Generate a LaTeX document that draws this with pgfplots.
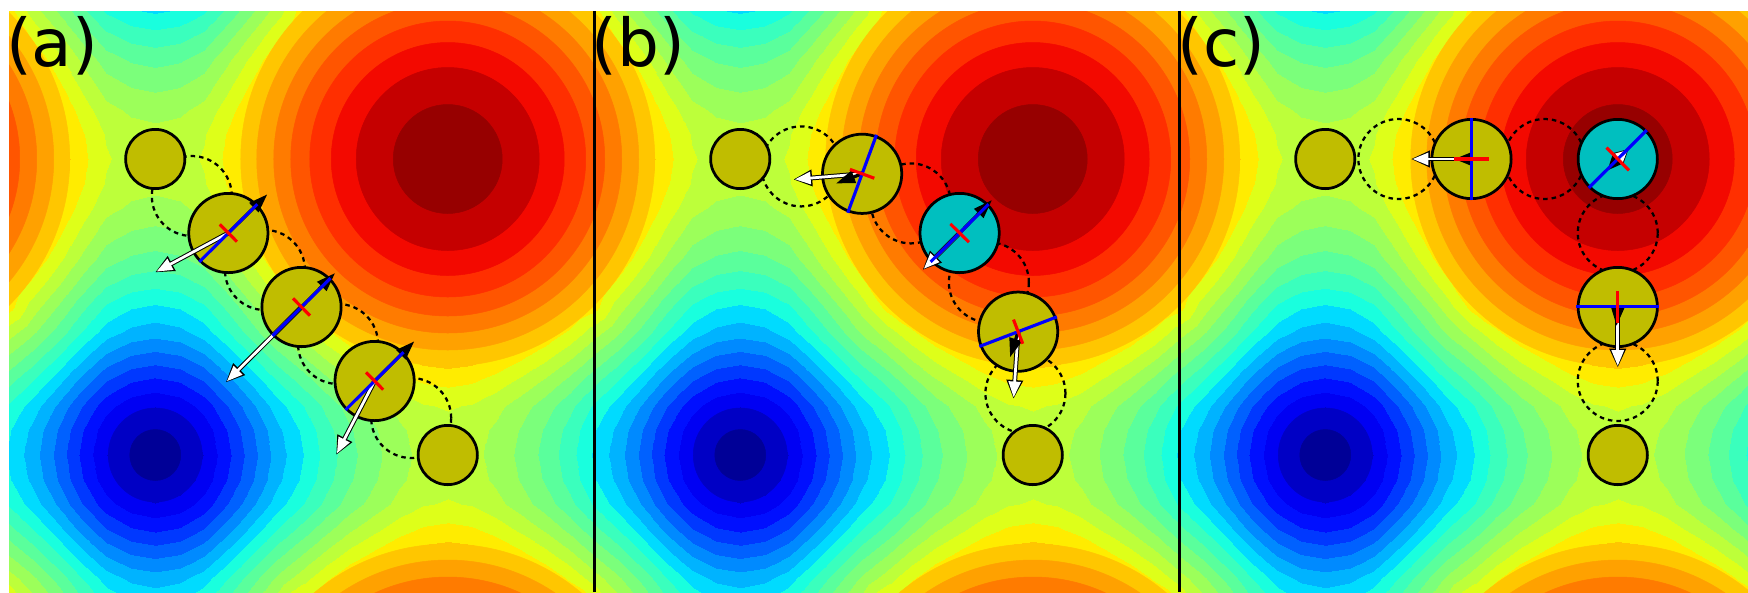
\documentclass[border=0pt]{standalone}
\usepackage{fontspec}
\usepackage{pgfplots}
\usepackage{pgfplotstable}
\pgfplotsset{compat=1.18}
\usetikzlibrary{arrows.meta}
\newfontfamily\lblfont{DejaVu Sans}

\definecolor{partolive}{RGB}{192,189,0}
\definecolor{partcyan}{RGB}{0,191,191}
\definecolor{band0}{RGB}{0,0,151}
\definecolor{band1}{RGB}{0,0,197}
\definecolor{band17}{RGB}{255,198,0}
\definecolor{band18}{RGB}{255,161,0}
\definecolor{band19}{RGB}{255,123,0}
\definecolor{band20}{RGB}{255,85,0}
\definecolor{band21}{RGB}{255,47,0}
\definecolor{band22}{RGB}{243,9,0}
\definecolor{band23}{RGB}{197,0,0}
\definecolor{band24}{RGB}{151,0,0}

% potential on a 25x25 grid over one period (grid units: 24 = one period)
\pgfplotstableread[row sep=\\]{
x y v\\
0 0 16.40\\ 1 0 14.49\\ 2 0 12.91\\ 3 0 11.29\\ 4 0 9.85\\ 5 0 9.11\\ 6 0 8.85\\ 7 0 9.11\\ 8 0 9.85\\ 9 0 11.29\\ 10 0 12.91\\ 11 0 14.49\\ 12 0 16.40\\ 13 0 17.19\\ 14 0 18.31\\ 15 0 19.18\\ 16 0 19.90\\ 17 0 20.39\\ 18 0 20.55\\ 19 0 20.39\\ 20 0 19.90\\ 21 0 19.18\\ 22 0 18.31\\ 23 0 17.19\\ 24 0 16.40\\
0 1 14.49\\ 1 1 13.19\\ 2 1 11.62\\ 3 1 9.99\\ 4 1 8.53\\ 5 1 7.73\\ 6 1 7.45\\ 7 1 7.73\\ 8 1 8.53\\ 9 1 9.99\\ 10 1 11.62\\ 11 1 13.19\\ 12 1 14.49\\ 13 1 15.80\\ 14 1 16.90\\ 15 1 17.76\\ 16 1 18.49\\ 17 1 18.98\\ 18 1 19.15\\ 19 1 18.98\\ 20 1 18.49\\ 21 1 17.76\\ 22 1 16.90\\ 23 1 15.80\\ 24 1 14.49\\
0 2 12.91\\ 1 2 11.62\\ 2 2 10.03\\ 3 2 8.35\\ 4 2 6.83\\ 5 2 5.96\\ 6 2 5.66\\ 7 2 5.96\\ 8 2 6.83\\ 9 2 8.35\\ 10 2 10.03\\ 11 2 11.62\\ 12 2 12.91\\ 13 2 14.24\\ 14 2 15.36\\ 15 2 16.24\\ 16 2 17.01\\ 17 2 17.53\\ 18 2 17.70\\ 19 2 17.53\\ 20 2 17.01\\ 21 2 16.24\\ 22 2 15.36\\ 23 2 14.24\\ 24 2 12.91\\
0 3 11.29\\ 1 3 9.99\\ 2 3 8.35\\ 3 3 6.60\\ 4 3 5.02\\ 5 3 4.09\\ 6 3 3.76\\ 7 3 4.09\\ 8 3 5.02\\ 9 3 6.60\\ 10 3 8.35\\ 11 3 9.99\\ 12 3 11.29\\ 13 3 12.67\\ 14 3 13.83\\ 15 3 14.75\\ 16 3 15.56\\ 17 3 16.12\\ 18 3 16.30\\ 19 3 16.12\\ 20 3 15.56\\ 21 3 14.75\\ 22 3 13.83\\ 23 3 12.67\\ 24 3 11.29\\
0 4 9.85\\ 1 4 8.53\\ 2 4 6.83\\ 3 4 5.02\\ 4 4 3.39\\ 5 4 2.39\\ 6 4 2.04\\ 7 4 2.39\\ 8 4 3.39\\ 9 4 5.02\\ 10 4 6.83\\ 11 4 8.53\\ 12 4 9.85\\ 13 4 11.28\\ 14 4 12.50\\ 15 4 13.46\\ 16 4 14.32\\ 17 4 14.91\\ 18 4 15.10\\ 19 4 14.91\\ 20 4 14.32\\ 21 4 13.46\\ 22 4 12.50\\ 23 4 11.28\\ 24 4 9.85\\
0 5 9.11\\ 1 5 7.73\\ 2 5 5.96\\ 3 5 4.09\\ 4 5 2.39\\ 5 5 1.35\\ 6 5 0.98\\ 7 5 1.35\\ 8 5 2.39\\ 9 5 4.09\\ 10 5 5.96\\ 11 5 7.73\\ 12 5 9.11\\ 13 5 10.61\\ 14 5 11.89\\ 15 5 12.91\\ 16 5 13.82\\ 17 5 14.43\\ 18 5 14.64\\ 19 5 14.43\\ 20 5 13.82\\ 21 5 12.91\\ 22 5 11.89\\ 23 5 10.61\\ 24 5 9.11\\
0 6 8.85\\ 1 6 7.45\\ 2 6 5.66\\ 3 6 3.76\\ 4 6 2.04\\ 5 6 0.98\\ 6 6 0.60\\ 7 6 0.98\\ 8 6 2.04\\ 9 6 3.76\\ 10 6 5.66\\ 11 6 7.45\\ 12 6 8.85\\ 13 6 10.38\\ 14 6 11.69\\ 15 6 12.73\\ 16 6 13.66\\ 17 6 14.29\\ 18 6 14.50\\ 19 6 14.29\\ 20 6 13.66\\ 21 6 12.73\\ 22 6 11.69\\ 23 6 10.38\\ 24 6 8.85\\
0 7 9.11\\ 1 7 7.73\\ 2 7 5.96\\ 3 7 4.09\\ 4 7 2.39\\ 5 7 1.35\\ 6 7 0.98\\ 7 7 1.35\\ 8 7 2.39\\ 9 7 4.09\\ 10 7 5.96\\ 11 7 7.73\\ 12 7 9.11\\ 13 7 10.61\\ 14 7 11.89\\ 15 7 12.91\\ 16 7 13.82\\ 17 7 14.43\\ 18 7 14.64\\ 19 7 14.43\\ 20 7 13.82\\ 21 7 12.91\\ 22 7 11.89\\ 23 7 10.61\\ 24 7 9.11\\
0 8 9.85\\ 1 8 8.53\\ 2 8 6.83\\ 3 8 5.02\\ 4 8 3.39\\ 5 8 2.39\\ 6 8 2.04\\ 7 8 2.39\\ 8 8 3.39\\ 9 8 5.02\\ 10 8 6.83\\ 11 8 8.53\\ 12 8 9.85\\ 13 8 11.28\\ 14 8 12.50\\ 15 8 13.46\\ 16 8 14.32\\ 17 8 14.91\\ 18 8 15.10\\ 19 8 14.91\\ 20 8 14.32\\ 21 8 13.46\\ 22 8 12.50\\ 23 8 11.28\\ 24 8 9.85\\
0 9 11.29\\ 1 9 9.99\\ 2 9 8.35\\ 3 9 6.60\\ 4 9 5.02\\ 5 9 4.09\\ 6 9 3.76\\ 7 9 4.09\\ 8 9 5.02\\ 9 9 6.60\\ 10 9 8.35\\ 11 9 9.99\\ 12 9 11.29\\ 13 9 12.67\\ 14 9 13.83\\ 15 9 14.75\\ 16 9 15.56\\ 17 9 16.12\\ 18 9 16.30\\ 19 9 16.12\\ 20 9 15.56\\ 21 9 14.75\\ 22 9 13.83\\ 23 9 12.67\\ 24 9 11.29\\
0 10 12.91\\ 1 10 11.62\\ 2 10 10.03\\ 3 10 8.35\\ 4 10 6.83\\ 5 10 5.96\\ 6 10 5.66\\ 7 10 5.96\\ 8 10 6.83\\ 9 10 8.35\\ 10 10 10.03\\ 11 10 11.62\\ 12 10 12.91\\ 13 10 14.24\\ 14 10 15.36\\ 15 10 16.24\\ 16 10 17.01\\ 17 10 17.53\\ 18 10 17.70\\ 19 10 17.53\\ 20 10 17.01\\ 21 10 16.24\\ 22 10 15.36\\ 23 10 14.24\\ 24 10 12.91\\
0 11 14.49\\ 1 11 13.19\\ 2 11 11.62\\ 3 11 9.99\\ 4 11 8.53\\ 5 11 7.73\\ 6 11 7.45\\ 7 11 7.73\\ 8 11 8.53\\ 9 11 9.99\\ 10 11 11.62\\ 11 11 13.19\\ 12 11 14.49\\ 13 11 15.80\\ 14 11 16.90\\ 15 11 17.76\\ 16 11 18.49\\ 17 11 18.98\\ 18 11 19.15\\ 19 11 18.98\\ 20 11 18.49\\ 21 11 17.76\\ 22 11 16.90\\ 23 11 15.80\\ 24 11 14.49\\
0 12 16.40\\ 1 12 14.49\\ 2 12 12.91\\ 3 12 11.29\\ 4 12 9.85\\ 5 12 9.11\\ 6 12 8.85\\ 7 12 9.11\\ 8 12 9.85\\ 9 12 11.29\\ 10 12 12.91\\ 11 12 14.49\\ 12 12 16.40\\ 13 12 17.19\\ 14 12 18.31\\ 15 12 19.18\\ 16 12 19.90\\ 17 12 20.39\\ 18 12 20.55\\ 19 12 20.39\\ 20 12 19.90\\ 21 12 19.18\\ 22 12 18.31\\ 23 12 17.19\\ 24 12 16.40\\
0 13 17.19\\ 1 13 15.80\\ 2 13 14.24\\ 3 13 12.67\\ 4 13 11.28\\ 5 13 10.61\\ 6 13 10.38\\ 7 13 10.61\\ 8 13 11.28\\ 9 13 12.67\\ 10 13 14.24\\ 11 13 15.80\\ 12 13 17.19\\ 13 13 18.51\\ 14 13 19.61\\ 15 13 20.46\\ 16 13 21.15\\ 17 13 21.61\\ 18 13 21.77\\ 19 13 21.61\\ 20 13 21.15\\ 21 13 20.46\\ 22 13 19.61\\ 23 13 18.51\\ 24 13 17.19\\
0 14 18.31\\ 1 14 16.90\\ 2 14 15.36\\ 3 14 13.83\\ 4 14 12.50\\ 5 14 11.89\\ 6 14 11.69\\ 7 14 11.89\\ 8 14 12.50\\ 9 14 13.83\\ 10 14 15.36\\ 11 14 16.90\\ 12 14 18.31\\ 13 14 19.61\\ 14 14 20.69\\ 15 14 21.53\\ 16 14 22.18\\ 17 14 22.62\\ 18 14 22.77\\ 19 14 22.62\\ 20 14 22.18\\ 21 14 21.53\\ 22 14 20.69\\ 23 14 19.61\\ 24 14 18.31\\
0 15 19.18\\ 1 15 17.76\\ 2 15 16.24\\ 3 15 14.75\\ 4 15 13.46\\ 5 15 12.91\\ 6 15 12.73\\ 7 15 12.91\\ 8 15 13.46\\ 9 15 14.75\\ 10 15 16.24\\ 11 15 17.76\\ 12 15 19.18\\ 13 15 20.46\\ 14 15 21.53\\ 15 15 22.35\\ 16 15 22.98\\ 17 15 23.40\\ 18 15 23.54\\ 19 15 23.40\\ 20 15 22.98\\ 21 15 22.35\\ 22 15 21.53\\ 23 15 20.46\\ 24 15 19.18\\
0 16 19.90\\ 1 16 18.49\\ 2 16 17.01\\ 3 16 15.56\\ 4 16 14.32\\ 5 16 13.82\\ 6 16 13.66\\ 7 16 13.82\\ 8 16 14.32\\ 9 16 15.56\\ 10 16 17.01\\ 11 16 18.49\\ 12 16 19.90\\ 13 16 21.15\\ 14 16 22.18\\ 15 16 22.98\\ 16 16 23.57\\ 17 16 23.96\\ 18 16 24.10\\ 19 16 23.96\\ 20 16 23.57\\ 21 16 22.98\\ 22 16 22.18\\ 23 16 21.15\\ 24 16 19.90\\
0 17 20.39\\ 1 17 18.98\\ 2 17 17.53\\ 3 17 16.12\\ 4 17 14.91\\ 5 17 14.43\\ 6 17 14.29\\ 7 17 14.43\\ 8 17 14.91\\ 9 17 16.12\\ 10 17 17.53\\ 11 17 18.98\\ 12 17 20.39\\ 13 17 21.61\\ 14 17 22.62\\ 15 17 23.40\\ 16 17 23.96\\ 17 17 24.34\\ 18 17 24.47\\ 19 17 24.34\\ 20 17 23.96\\ 21 17 23.40\\ 22 17 22.62\\ 23 17 21.61\\ 24 17 20.39\\
0 18 20.55\\ 1 18 19.15\\ 2 18 17.70\\ 3 18 16.30\\ 4 18 15.10\\ 5 18 14.64\\ 6 18 14.50\\ 7 18 14.64\\ 8 18 15.10\\ 9 18 16.30\\ 10 18 17.70\\ 11 18 19.15\\ 12 18 20.55\\ 13 18 21.77\\ 14 18 22.77\\ 15 18 23.54\\ 16 18 24.10\\ 17 18 24.47\\ 18 18 24.60\\ 19 18 24.47\\ 20 18 24.10\\ 21 18 23.54\\ 22 18 22.77\\ 23 18 21.77\\ 24 18 20.55\\
0 19 20.39\\ 1 19 18.98\\ 2 19 17.53\\ 3 19 16.12\\ 4 19 14.91\\ 5 19 14.43\\ 6 19 14.29\\ 7 19 14.43\\ 8 19 14.91\\ 9 19 16.12\\ 10 19 17.53\\ 11 19 18.98\\ 12 19 20.39\\ 13 19 21.61\\ 14 19 22.62\\ 15 19 23.40\\ 16 19 23.96\\ 17 19 24.34\\ 18 19 24.47\\ 19 19 24.34\\ 20 19 23.96\\ 21 19 23.40\\ 22 19 22.62\\ 23 19 21.61\\ 24 19 20.39\\
0 20 19.90\\ 1 20 18.49\\ 2 20 17.01\\ 3 20 15.56\\ 4 20 14.32\\ 5 20 13.82\\ 6 20 13.66\\ 7 20 13.82\\ 8 20 14.32\\ 9 20 15.56\\ 10 20 17.01\\ 11 20 18.49\\ 12 20 19.90\\ 13 20 21.15\\ 14 20 22.18\\ 15 20 22.98\\ 16 20 23.57\\ 17 20 23.96\\ 18 20 24.10\\ 19 20 23.96\\ 20 20 23.57\\ 21 20 22.98\\ 22 20 22.18\\ 23 20 21.15\\ 24 20 19.90\\
0 21 19.18\\ 1 21 17.76\\ 2 21 16.24\\ 3 21 14.75\\ 4 21 13.46\\ 5 21 12.91\\ 6 21 12.73\\ 7 21 12.91\\ 8 21 13.46\\ 9 21 14.75\\ 10 21 16.24\\ 11 21 17.76\\ 12 21 19.18\\ 13 21 20.46\\ 14 21 21.53\\ 15 21 22.35\\ 16 21 22.98\\ 17 21 23.40\\ 18 21 23.54\\ 19 21 23.40\\ 20 21 22.98\\ 21 21 22.35\\ 22 21 21.53\\ 23 21 20.46\\ 24 21 19.18\\
0 22 18.31\\ 1 22 16.90\\ 2 22 15.36\\ 3 22 13.83\\ 4 22 12.50\\ 5 22 11.89\\ 6 22 11.69\\ 7 22 11.89\\ 8 22 12.50\\ 9 22 13.83\\ 10 22 15.36\\ 11 22 16.90\\ 12 22 18.31\\ 13 22 19.61\\ 14 22 20.69\\ 15 22 21.53\\ 16 22 22.18\\ 17 22 22.62\\ 18 22 22.77\\ 19 22 22.62\\ 20 22 22.18\\ 21 22 21.53\\ 22 22 20.69\\ 23 22 19.61\\ 24 22 18.31\\
0 23 17.19\\ 1 23 15.80\\ 2 23 14.24\\ 3 23 12.67\\ 4 23 11.28\\ 5 23 10.61\\ 6 23 10.38\\ 7 23 10.61\\ 8 23 11.28\\ 9 23 12.67\\ 10 23 14.24\\ 11 23 15.80\\ 12 23 17.19\\ 13 23 18.51\\ 14 23 19.61\\ 15 23 20.46\\ 16 23 21.15\\ 17 23 21.61\\ 18 23 21.77\\ 19 23 21.61\\ 20 23 21.15\\ 21 23 20.46\\ 22 23 19.61\\ 23 23 18.51\\ 24 23 17.19\\
0 24 16.40\\ 1 24 14.49\\ 2 24 12.91\\ 3 24 11.29\\ 4 24 9.85\\ 5 24 9.11\\ 6 24 8.85\\ 7 24 9.11\\ 8 24 9.85\\ 9 24 11.29\\ 10 24 12.91\\ 11 24 14.49\\ 12 24 16.40\\ 13 24 17.19\\ 14 24 18.31\\ 15 24 19.18\\ 16 24 19.90\\ 17 24 20.39\\ 18 24 20.55\\ 19 24 20.39\\ 20 24 19.90\\ 21 24 19.18\\ 22 24 18.31\\ 23 24 17.19\\ 24 24 16.40\\
}\fieldtab

% the maximum at (18,18) and its periodic images that reach into a panel
\pgfplotstableread[row sep=\\]{
x y\\
18 18\\ -6 18\\ 18 -6\\
}\peaktab

\pgfplotsset{
  colormap={mpljet}{
    rgb255=(0,0,151) rgb255=(0,0,197) rgb255=(0,0,243) rgb255=(0,15,255)
    rgb255=(0,56,255) rgb255=(0,97,255) rgb255=(0,138,255) rgb255=(0,179,255)
    rgb255=(0,219,255) rgb255=(25,255,222) rgb255=(58,255,189) rgb255=(90,255,156)
    rgb255=(123,255,123) rgb255=(156,255,90) rgb255=(189,255,58) rgb255=(222,255,25)
    rgb255=(255,236,0) rgb255=(255,198,0) rgb255=(255,161,0) rgb255=(255,123,0)
    rgb255=(255,85,0) rgb255=(255,47,0) rgb255=(243,9,0) rgb255=(197,0,0)
    rgb255=(151,0,0)},
  fieldpanel/.style={scale only axis, width=234pt, height=232.4pt,
    xmin=0, xmax=24, ymin=0.446, ymax=24, hide axis, anchor=south west,
    view={0}{90}, colormap name=mpljet, point meta min=0, point meta max=25},
  % overlay axis: 8 grid units wider to the left and below, same scale;
  % the panel rectangle is clipped by the surrounding scope
  overlaypanel/.style={scale only axis, width=312pt, height=315.734pt,
    xmin=-8, xmax=24, ymin=-8, ymax=24, hide axis, anchor=south west,
    clip marker paths=true},
  ring/.style 2 args={only marks, mark=*, mark size=#1, color=#2,
    mark options={draw=#2, fill=#2, line width=0.2pt}},
  dashedring/.style={only marks, mark=o, mark size=16pt,
    mark options={draw=black, line width=0.9pt, dash pattern=on 1.8pt off 1.6pt}},
  smallpart/.style={only marks, mark=*, mark size=11.85pt,
    mark options={draw=black, fill=partolive, line width=1.1pt}},
  bigpart/.style={only marks, mark=*, mark size=15.85pt,
    mark options={draw=black, fill=#1, line width=1.1pt}},
  forceA/.style={draw=black, line width=1.9pt, -{Triangle[length=7.6pt,width=6.2pt]}},
  forceB/.style={draw=white, line width=1.1pt, shorten >=0.7pt, -{Triangle[length=6.3pt,width=4.8pt]}},
  dirarrow/.style={draw=black, line width=1.3pt, -{Triangle[length=7.6pt,width=5pt]}},
  orientline/.style={draw=blue, line width=1.25pt},
  crossmark/.style={draw=red, line width=1.25pt},
}

\newcommand{\fieldplot}{%
  \addplot3[surf, shader=interp, colormap access=piecewise constant,
    mesh/rows=25, point meta=\thisrow{v}] table[x=x, y=y, z=v] {\fieldtab};}
% round bands of the maxima (outermost first) and the core of the minimum
\newcommand{\extremabands}{%
  \addplot[ring={82.8pt}{band17}] table[x=x,y=y] {\peaktab};
  \addplot[ring={76.4pt}{band18}] table[x=x,y=y] {\peaktab};
  \addplot[ring={69.6pt}{band19}] table[x=x,y=y] {\peaktab};
  \addplot[ring={62.8pt}{band20}] table[x=x,y=y] {\peaktab};
  \addplot[ring={55.2pt}{band21}] table[x=x,y=y] {\peaktab};
  \addplot[ring={46.6pt}{band22}] table[x=x,y=y] {\peaktab};
  \addplot[ring={36.6pt}{band23}] table[x=x,y=y] {\peaktab};
  \addplot[ring={21.8pt}{band24}] table[x=x,y=y] {\peaktab};
  \addplot[ring={18.8pt}{band1}] coordinates {(6,6)};
  \addplot[ring={10.2pt}{band0}] coordinates {(6,6)};}

\begin{document}
\begin{tikzpicture}
\useasboundingbox (0pt,0pt) rectangle (699.2pt,236.8pt);

% ---------------- panel (a) ----------------
\begin{axis}[fieldpanel, at={(3.6pt,0pt)}]
  \fieldplot
\end{axis}
\begin{scope}
\clip (3.6pt,0pt) rectangle (237.6pt,232.4pt);
\begin{axis}[overlaypanel, at={(-74.4pt,-83.334pt)}]
  \extremabands
  \addplot[dashedring] coordinates {(7.5,16.5) (10.5,13.5) (13.5,10.5) (16.5,7.5)};
  \addplot[smallpart] coordinates {(6,18) (18,6)};
  \addplot[bigpart=partolive] coordinates {(9,15) (12,12) (15,9)};
  \addplot[forceA] coordinates {(9,15) (5.99,13.40)};
  \addplot[forceB] coordinates {(9,15) (5.99,13.40)};
  \addplot[forceA] coordinates {(12,12) (8.89,8.94)};
  \addplot[forceB] coordinates {(12,12) (8.89,8.94)};
  \addplot[forceA] coordinates {(15,9) (13.42,6.00)};
  \addplot[forceB] coordinates {(15,9) (13.42,6.00)};
  \addplot[dirarrow] coordinates {(9,15) (10.60,16.57)};
  \addplot[dirarrow] coordinates {(12,12) (13.38,13.38)};
  \addplot[dirarrow] coordinates {(15,9) (16.63,10.61)};
  \addplot[orientline] coordinates {(7.81,13.83) (10.19,16.17)};
  \addplot[orientline] coordinates {(10.81,10.83) (13.19,13.17)};
  \addplot[orientline] coordinates {(13.81,7.83) (16.19,10.17)};
  \addplot[crossmark] coordinates {(8.65,15.35) (9.35,14.65)};
  \addplot[crossmark] coordinates {(11.65,12.35) (12.35,11.65)};
  \addplot[crossmark] coordinates {(14.65,9.35) (15.35,8.65)};
\end{axis}
\end{scope}

% ---------------- panel (b) ----------------
\begin{axis}[fieldpanel, at={(237.6pt,0pt)}]
  \fieldplot
\end{axis}
\begin{scope}
\clip (237.6pt,0pt) rectangle (471.6pt,232.4pt);
\begin{axis}[overlaypanel, at={(159.6pt,-83.334pt)}]
  \extremabands
  \addplot[dashedring] coordinates {(8.5,17.7) (13,16.2) (16.2,13) (17.7,8.5)};
  \addplot[smallpart] coordinates {(6,18) (18,6)};
  \addplot[bigpart=partolive] coordinates {(11,17.4) (17.4,11)};
  \addplot[bigpart=partcyan] coordinates {(15,15)};
  \addplot[forceA] coordinates {(11,17.4) (8.17,17.17)};
  \addplot[forceB] coordinates {(11,17.4) (8.17,17.17)};
  \addplot[forceA] coordinates {(15,15) (13.48,13.50)};
  \addplot[forceB] coordinates {(15,15) (13.48,13.50)};
  \addplot[forceA] coordinates {(17.4,11) (17.21,8.27)};
  \addplot[forceB] coordinates {(17.4,11) (17.21,8.27)};
  \addplot[dirarrow] coordinates {(11,17.4) (9.93,17.01)};
  \addplot[dirarrow] coordinates {(15,15) (16.33,16.34)};
  \addplot[dirarrow] coordinates {(17.4,11) (17.07,9.96)};
  \addplot[orientline] coordinates {(10.41,15.82) (11.59,18.98)};
  \addplot[orientline] coordinates {(13.81,13.83) (16.19,16.17)};
  \addplot[orientline] coordinates {(15.81,10.40) (18.99,11.60)};
  \addplot[crossmark] coordinates {(10.50,17.58) (11.50,17.22)};
  \addplot[crossmark] coordinates {(14.62,15.37) (15.38,14.63)};
  \addplot[crossmark] coordinates {(17.21,11.49) (17.59,10.51)};
\end{axis}
\end{scope}

% ---------------- panel (c) ----------------
\begin{axis}[fieldpanel, at={(471.6pt,0pt)}, xmax=23.344, width=227.6pt]
  \fieldplot
\end{axis}
\begin{scope}
\clip (471.6pt,0pt) rectangle (699.2pt,232.4pt);
\begin{axis}[overlaypanel, at={(393.6pt,-83.334pt)}]
  \extremabands
  \addplot[dashedring] coordinates {(9,18) (15,18) (18,15) (18,9)};
  \addplot[smallpart] coordinates {(6,18) (18,6)};
  \addplot[bigpart=partolive] coordinates {(12,18) (18,12)};
  \addplot[bigpart=partcyan] coordinates {(18,18)};
  \addplot[forceA] coordinates {(12,18) (9.51,18)};
  \addplot[forceB] coordinates {(12,18) (9.51,18)};
  \addplot[draw=black, line width=1.9pt, -{Triangle[length=6pt,width=5.8pt]}] coordinates {(18,18) (18.45,18.41)};
  \addplot[draw=white, line width=1.1pt, shorten >=0.6pt, -{Triangle[length=4.8pt,width=4.4pt]}] coordinates {(18,18) (18.45,18.41)};
  \addplot[forceA] coordinates {(18,12) (18,9.54)};
  \addplot[forceB] coordinates {(18,12) (18,9.54)};
  \addplot[draw=black, line width=1.3pt, -{Triangle[length=6.8pt,width=5pt]}] coordinates {(12,18) (11.29,18)};
  \addplot[draw=black, line width=1.3pt, -{Triangle[length=6.2pt,width=5pt]}] coordinates {(18,18) (17.57,17.53)};
  \addplot[draw=black, line width=1.3pt, -{Triangle[length=7.4pt,width=5pt]}] coordinates {(18,12) (17.95,11.23)};
  \addplot[orientline] coordinates {(12,16.32) (12,19.68)};
  \addplot[orientline] coordinates {(16.81,16.83) (19.19,19.17)};
  \addplot[orientline] coordinates {(16.30,12.02) (19.70,12.02)};
  \addplot[crossmark] coordinates {(11.30,18) (12.70,18)};
  \addplot[crossmark] coordinates {(17.54,18.46) (18.46,17.54)};
  \addplot[crossmark] coordinates {(18,12.65) (18,11.35)};
\end{axis}
\end{scope}

% panel separators and panel letters
\draw[line width=1.2pt] (237.6pt,0pt) -- (237.6pt,232.4pt);
\draw[line width=1.2pt] (471.6pt,0pt) -- (471.6pt,232.4pt);
\node[anchor=base west, inner sep=0pt, font=\lblfont\fontsize{26.4pt}{30pt}\selectfont] at (2.3pt,210.4pt) {(a)};
\node[anchor=base west, inner sep=0pt, font=\lblfont\fontsize{26.4pt}{30pt}\selectfont] at (236.5pt,210.4pt) {(b)};
\node[anchor=base west, inner sep=0pt, font=\lblfont\fontsize{26.4pt}{30pt}\selectfont] at (470.7pt,210.4pt) {(c)};
\end{tikzpicture}
\end{document}
